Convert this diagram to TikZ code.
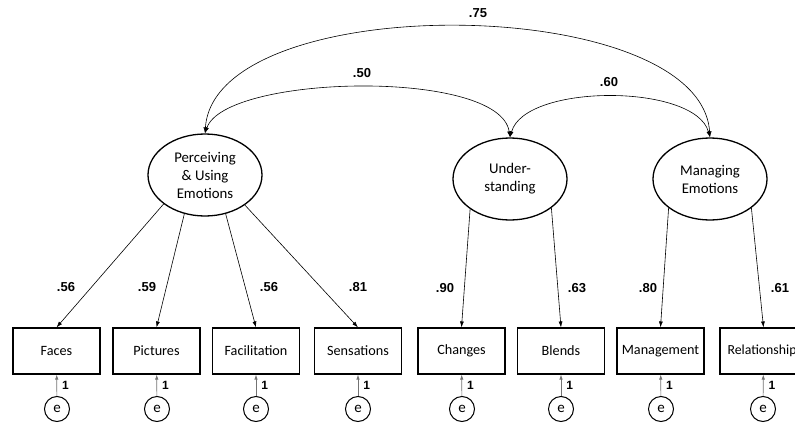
\documentclass[tikz,border=0pt]{standalone}
\usepackage{fontspec}
\setmainfont{Carlito}
\newfontfamily\numfont{Liberation Sans}
\usetikzlibrary{shapes.geometric,arrows.meta}
\begin{document}
\begin{tikzpicture}[x=1pt,y=-1pt,
  latent/.style={ellipse, draw, line width=1.3pt, minimum width=114pt, minimum height=82pt, inner sep=0pt, align=center, font=\fontsize{14.8}{18}\selectfont},
  obs/.style={rectangle, draw, line width=1.1pt, minimum width=87pt, minimum height=46pt, inner sep=0pt, font=\fontsize{14.2}{17}\selectfont},
  err/.style={circle, draw, line width=1pt, minimum size=25pt, inner sep=0pt, font=\fontsize{15}{17}\selectfont},
  lpath/.style={-{Latex[length=6pt,width=4pt]}, line width=0.6pt},
  cov/.style={{Latex[length=6pt,width=4pt]}-{Latex[length=6pt,width=4pt]}, line width=0.6pt},
  epath/.style={-{Latex[length=5pt,width=3.5pt]}, line width=0.7pt, draw=black!55},
  num/.style={font=\numfont\bfseries\fontsize{13}{15}\selectfont, inner sep=0pt},
  onelab/.style={font=\numfont\bfseries\fontsize{12}{14}\selectfont, inner sep=0pt, anchor=west, xshift=5pt}
]
\useasboundingbox (0,0) rectangle (795,423);

% latent variables
\node[latent] (P) at (205,175) {Perceiving\\\& Using\\Emotions};
\node[latent] (U) at (510,179) {Under-\\standing};
\node[latent] (M) at (710,179) {Managing\\Emotions};

% observed variables
\node[obs] (b1) at (56.5,351) {Faces};
\node[obs] (b2) at (156.5,351) {Pictures};
\node[obs] (b3) at (256,351) {Facilitation};
\node[obs] (b4) at (358,351) {Sensations};
\node[obs] (b5) at (461.5,351) {Changes};
\node[obs] (b6) at (561,351) {Blends};
\node[obs] (b7) at (660.5,351) {Management};
\node[obs, text width=72pt, align=left, font=\fontsize{13.8}{17}\selectfont] (b8) at (763.5,351) {Relationship};

% errors
\foreach \i/\x in {1/57,2/157,3/256,4/358,5/462,6/561,7/661,8/763} {
  \node[err] (e\i) at (\x,409) {e};
  \draw[epath] (e\i) -- node[onelab] (one\i) {1} (b\i);
}

% loadings
\draw[lpath] (P.215) -- (b1.north);
\draw[lpath] (P.242) -- (b2.north);
\draw[lpath] (P.298) -- (b3.north);
\draw[lpath] (P.323) -- (b4.north);
\draw[lpath] (U.217) -- (b5.north);
\draw[lpath] (U.325) -- (b6.north);
\draw[lpath] (M.215) -- (b7.north);
\draw[lpath] (M.325) -- (b8.north);

\node[num] (l1) at (66,287) {.56};
\node[num] (l2) at (147,287) {.59};
\node[num] (l3) at (269,287) {.56};
\node[num] (l4) at (358,287) {.81};
\node[num] (l5) at (445,288) {.90};
\node[num] (l6) at (577,288) {.63};
\node[num] (l7) at (648,288) {.80};
\node[num] (l8) at (780,288) {.61};

% covariances
\draw[cov] (P.north) .. controls +(10,-145) and +(-10,-145) .. (M.north);
\draw[cov] (P.north) .. controls +(20,-59) and +(-10,-69) .. (U.north);
\draw[cov] (U.north) .. controls +(15,-54) and +(-15,-54) .. (M.north);

\node[num] (c1) at (478,13) {.75};
\node[num] (c2) at (362,73) {.50};
\node[num] (c3) at (609,82) {.60};
\end{tikzpicture}
\end{document}
